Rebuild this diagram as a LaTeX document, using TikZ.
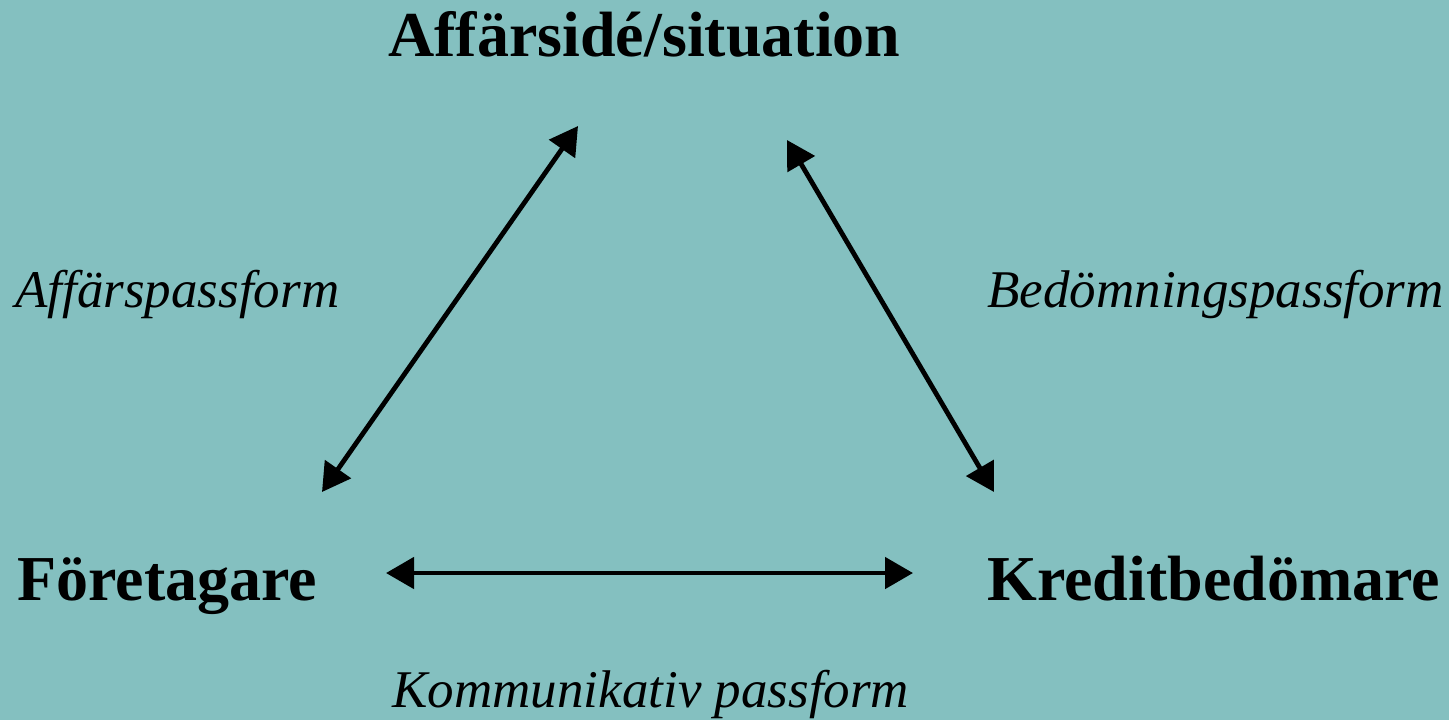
\documentclass[tikz,border=0pt]{standalone}
\usepackage{fontspec}
\setmainfont{Liberation Serif}
\usetikzlibrary{arrows.meta}
\definecolor{bgteal}{RGB}{132,192,192}
\begin{document}
\begin{tikzpicture}[x=0.5pt,y=-0.5pt,
  main/.style={inner sep=0pt,anchor=base west,font=\bfseries\fontsize{32}{36}\selectfont},
  lbl/.style={inner sep=0pt,anchor=base west,font=\itshape\fontsize{26.5}{30}\selectfont},
  link/.style={line width=2.4pt,{Triangle[length=14pt,width=15.5pt]}-{Triangle[length=14pt,width=15.5pt]}}]
\fill[bgteal] (0,0) rectangle (1449,720);
\useasboundingbox (0,0) rectangle (1449,720);
\node[main] (top) at (388,56) {Affärsidé/situation};
\node[main] (left) at (17,600) {Företagare};
\node[main] (right) at (987,600) {Kreditbedömare};
\node[lbl] (l1) at (15,307) {Affärspassform};
\node[lbl] (l2) at (987,307) {Bedömningspassform};
\node[lbl] (l3) at (392,707) {Kommunikativ passform};
\coordinate (topL) at (578,126);
\coordinate (topR) at (787,140);
\coordinate (leftU) at (322,492);
\coordinate (rightU) at (994,492);
\coordinate (leftS) at (386,573);
\coordinate (rightS) at (913,573);
\draw[link] (leftU) -- (topL);
\draw[link] (topR) -- (rightU);
\draw[link] (leftS) -- (rightS);
\end{tikzpicture}
\end{document}
